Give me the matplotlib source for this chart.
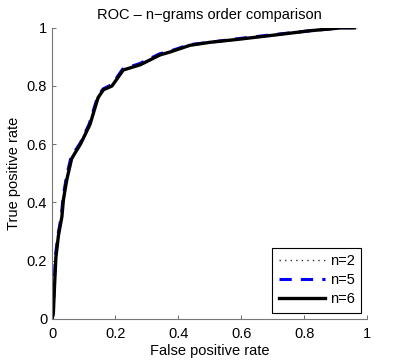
import numpy as np
import matplotlib
matplotlib.use('Agg')
import matplotlib.pyplot as plt

plt.rcParams['font.family'] = ['Liberation Sans', 'DejaVu Sans']

# ROC points (false positive rate, true positive rate)
fpr_n2 = [0.0, 0.004, 0.008, 0.012, 0.02, 0.025, 0.031, 0.036, 0.047, 0.062, 0.073,
          0.09, 0.12, 0.146, 0.163, 0.19, 0.226, 0.28, 0.343, 0.375, 0.438,
          0.5, 0.587, 0.69, 0.82, 0.92, 0.97]
tpr_n2 = [0.0, 0.02, 0.12, 0.21, 0.28, 0.31, 0.35, 0.41, 0.48, 0.55, 0.57,
          0.6, 0.665, 0.755, 0.785, 0.8, 0.853, 0.872, 0.905, 0.917, 0.938,
          0.948, 0.958, 0.972, 0.988, 0.998, 1.0]

fpr_n5 = [0.0, 0.004, 0.007, 0.011, 0.019, 0.024, 0.03, 0.035, 0.046, 0.061, 0.072,
          0.09, 0.118, 0.145, 0.162, 0.19, 0.224, 0.278, 0.34, 0.375, 0.436,
          0.5, 0.585, 0.69, 0.82, 0.92, 0.96]
tpr_n5 = [0.0, 0.02, 0.13, 0.22, 0.29, 0.32, 0.36, 0.42, 0.49, 0.56, 0.575,
          0.605, 0.67, 0.765, 0.79, 0.805, 0.858, 0.877, 0.91, 0.92, 0.942,
          0.95, 0.962, 0.975, 0.99, 1.0, 1.0]

fpr_n6 = [0.0, 0.004, 0.008, 0.012, 0.02, 0.025, 0.031, 0.036, 0.047, 0.062, 0.073,
          0.09, 0.12, 0.146, 0.163, 0.19, 0.226, 0.28, 0.343, 0.375, 0.438,
          0.5, 0.587, 0.69, 0.82, 0.92, 0.96]
tpr_n6 = [0.0, 0.02, 0.12, 0.21, 0.285, 0.315, 0.35, 0.41, 0.48, 0.55, 0.57,
          0.6, 0.667, 0.76, 0.787, 0.8, 0.855, 0.873, 0.907, 0.917, 0.94,
          0.95, 0.96, 0.973, 0.99, 1.0, 1.0]

fig = plt.figure(figsize=(4.07, 3.61), dpi=100)
ax = fig.add_axes([0.128, 0.117, 0.774, 0.806])

ax.plot(fpr_n2, tpr_n2, color='#333333', lw=1.0, ls=(0, (1, 3)), label='n=2')
ax.plot(fpr_n5, tpr_n5, color='#0000ff', lw=2.2, ls=(0, (4, 3)), label='n=5')
ax.plot(fpr_n6, tpr_n6, '-', color='black', lw=2.4, label='n=6')

ax.set_xlim(0, 1)
ax.set_ylim(0, 1)
ax.set_xticks([0, 0.2, 0.4, 0.6, 0.8, 1])
ax.set_xticklabels(['0', '0.2', '0.4', '0.6', '0.8', '1'])
ax.set_yticks([0, 0.2, 0.4, 0.6, 0.8, 1])
ax.set_yticklabels(['0', '0.2', '0.4', '0.6', '0.8', '1'])
ax.tick_params(direction='in', length=3, width=0.6, colors='#555555',
               labelcolor='black', labelsize=10.5)
ax.tick_params(axis='x', pad=6)

for side in ['top', 'right']:
    ax.spines[side].set_visible(False)
for side in ['left', 'bottom']:
    ax.spines[side].set_color('#777777')
    ax.spines[side].set_linewidth(0.8)

ax.set_title('ROC \u2013 n\u2212grams order comparison', fontsize=10.5, pad=6)
ax.set_xlabel('False positive rate', fontsize=10.5, labelpad=2)
ax.set_ylabel('True positive rate', fontsize=10.5, labelpad=4)

leg = ax.legend(loc='lower right', fontsize=10.5,
                fancybox=False, framealpha=1, edgecolor='black',
                handlelength=3.2, handletextpad=0.3, borderpad=0.45,
                labelspacing=0.35, borderaxespad=0.4)
leg.get_frame().set_linewidth(0.8)

fig.savefig('out.png', dpi=100)
